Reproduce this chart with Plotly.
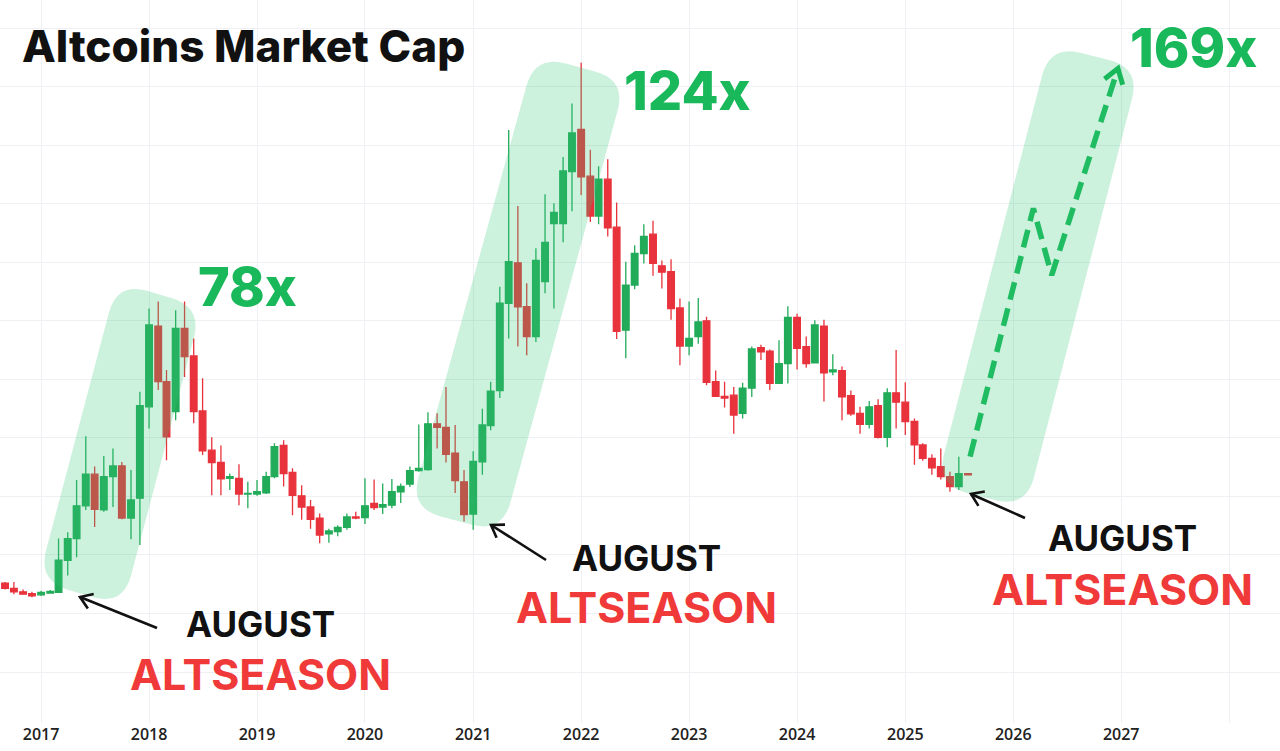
import math
import pandas as pd
import plotly.graph_objects as go

# monthly candles Sep 2016 .. Aug 2025, values in chart index units (grid step = 10)
months = pd.date_range("2016-09-01", periods=108, freq="MS")

opens = [15.2, 14.3, 13.7, 13.4, 13.2, 13.5, 13.6, 19.1, 22.8, 28.4,
         33.8, 27.7, 33.4, 35.2, 26.3, 29.7, 45.3, 59.1, 49.6, 44.5,
         58.7, 54.0, 44.6, 37.9, 35.8, 33.1, 33.1, 30.4, 30.4, 30.6,
         33.4, 38.7, 34.1, 30.1, 28.2, 26.3, 23.6, 24.0, 24.7, 26.5,
         26.4, 28.8, 28.2, 28.5, 30.8, 32.1, 34.4, 34.6, 42.4, 41.8,
         37.4, 32.5, 27.0, 35.9, 42.1, 48.1, 63.0, 69.9, 62.4, 57.3,
         66.7, 76.6, 76.6, 85.5, 92.7, 84.7, 77.9, 84.2, 76.0, 58.4,
         66.1, 71.5, 74.8, 69.4, 68.4, 62.2, 55.7, 57.3, 60.0, 49.6,
         47.1, 47.3, 44.2, 48.5, 55.4, 54.8, 49.3, 52.7, 60.6, 55.6,
         52.8, 59.1, 51.3, 51.5, 47.2, 44.2, 42.3, 45.5, 40.1, 47.7,
         46.1, 42.8, 38.8, 36.5, 35.1, 33.4, 31.7, 33.9]
highs = [15.4, 15.4, 14.1, 13.7, 13.9, 14.0, 22.8, 23.9, 32.8, 40.3,
         35.1, 36.9, 38.2, 35.9, 34.5, 47.9, 62.1, 63.3, 51.6, 61.8,
         63.3, 57.0, 50.2, 40.1, 38.7, 33.9, 35.5, 32.5, 32.8, 34.2,
         39.1, 39.6, 34.8, 31.9, 29.4, 27.1, 24.5, 25.1, 27.1, 27.4,
         33.1, 32.9, 32.2, 33.0, 32.2, 35.1, 42.3, 44.4, 44.2, 48.7,
         42.2, 34.5, 37.7, 45.0, 49.6, 65.8, 92.6, 79.6, 66.4, 72.4,
         81.6, 80.1, 88.0, 97.1, 104.1, 89.2, 86.4, 87.6, 80.2, 70.1,
         72.9, 76.5, 77.1, 70.3, 70.5, 63.8, 63.3, 63.9, 60.7, 51.5,
         49.6, 48.7, 49.4, 55.6, 55.9, 55.1, 56.7, 62.5, 61.2, 57.3,
         60.1, 60.2, 54.3, 52.2, 48.1, 45.3, 46.3, 46.6, 48.5, 55.0,
         49.5, 43.3, 39.1, 37.2, 38.2, 34.2, 36.8, 34.0]
lows = [14.1, 13.3, 13.2, 12.8, 13.0, 13.4, 13.5, 16.5, 19.6, 27.7,
        24.8, 27.4, 28.2, 26.1, 22.7, 21.7, 41.6, 48.2, 36.2, 43.0,
        50.4, 42.5, 37.1, 30.2, 30.2, 31.1, 28.5, 28.0, 30.1, 30.4,
        33.1, 31.7, 26.8, 26.0, 24.5, 22.0, 22.1, 23.2, 24.3, 26.1,
        25.3, 27.7, 27.0, 28.0, 28.9, 31.6, 34.2, 34.4, 38.2, 35.8,
        30.6, 25.7, 24.3, 33.7, 41.3, 46.8, 57.0, 55.6, 54.1, 56.4,
        64.7, 62.1, 73.4, 78.7, 81.5, 76.9, 76.5, 74.4, 56.9, 53.6,
        65.4, 69.8, 67.7, 65.5, 60.2, 52.4, 54.1, 56.1, 49.0, 47.0,
        45.2, 40.7, 43.3, 47.0, 53.3, 48.2, 49.2, 49.3, 51.7, 52.0,
        52.7, 46.2, 50.7, 43.0, 43.8, 40.7, 41.6, 39.9, 38.4, 41.6,
        40.5, 35.4, 36.1, 33.7, 32.9, 30.8, 31.1, 33.6]
closes = [14.3, 13.7, 13.3, 13.0, 13.6, 13.8, 19.1, 22.8, 28.4, 33.8,
          27.8, 33.4, 35.2, 26.3, 29.4, 45.5, 59.3, 49.6, 40.2, 58.7,
          53.9, 44.5, 37.8, 35.8, 33.0, 33.4, 30.4, 30.5, 30.8, 33.4,
          38.5, 33.9, 30.2, 28.2, 26.1, 23.4, 24.1, 24.7, 26.5, 26.3,
          28.4, 28.1, 28.6, 30.8, 31.7, 34.4, 34.8, 42.4, 41.8, 37.2,
          32.7, 26.9, 36.0, 42.2, 48.0, 63.0, 70.1, 62.4, 57.3, 70.3,
          73.4, 78.5, 85.6, 92.1, 84.6, 77.9, 84.2, 75.9, 58.2, 66.1,
          71.5, 74.4, 69.8, 68.3, 62.1, 55.7, 57.0, 59.8, 49.5, 47.1,
          46.8, 43.9, 48.5, 55.2, 54.7, 49.3, 52.7, 60.6, 55.3, 52.7,
          59.3, 51.1, 51.6, 47.0, 44.1, 42.3, 45.3, 40.1, 47.7, 46.1,
          42.8, 38.8, 36.5, 34.9, 33.4, 31.7, 33.9, 33.7]

# projected path of the next altseason (dashed arrow)
proj_dates = ["2025-08-08", "2026-03-10", "2026-05-11", "2026-12-21"]
proj_values = [36.8, 79.2, 67.8, 103.1]

year_ticks = [f"{y}-01-01" for y in range(2017, 2029)]
year_labels = [str(y) for y in range(2017, 2028)] + [""]

GREEN = "#22ab59"
RED = "#e8323c"
TXT_GREEN = "#19b85a"
TXT_RED = "#f03a3a"
BAND = "rgba(50,200,120,0.25)"

W, H = 1280, 751
MB = 28
PH = H - MB
X_RANGE = ["2016-08-15", "2028-06-21"]
Y_RANGE = [-8.7, 114.8]

_x0 = pd.Timestamp(X_RANGE[0]).value
_x1 = pd.Timestamp(X_RANGE[1]).value


def data_px(d, v):
    t = pd.Timestamp(d).value
    return ((t - _x0) / (_x1 - _x0) * W,
            (Y_RANGE[1] - v) / (Y_RANGE[1] - Y_RANGE[0]) * PH)


def pp(p):
    return f"{p[0] / W:.5f},{1 - p[1] / PH:.5f}"


def toward(a, b, r):
    dx, dy = b[0] - a[0], b[1] - a[1]
    L = math.hypot(dx, dy)
    return (a[0] + dx / L * r, a[1] + dy / L * r)


def band_path(corners, r):
    d = ""
    n = len(corners)
    for i in range(n):
        p = corners[i]
        a = toward(p, corners[i - 1], r)
        b = toward(p, corners[(i + 1) % n], r)
        d += ("M" if i == 0 else "L") + pp(a) + " Q" + pp(p) + " " + pp(b) + " "
    return d + "Z"


def chevron(tail, head, size, ang=34):
    ux, uy = head[0] - tail[0], head[1] - tail[1]
    L = math.hypot(ux, uy)
    ux, uy = -ux / L, -uy / L
    arms = []
    for s in (1, -1):
        a = math.radians(ang * s)
        arms.append((head[0] + size * (ux * math.cos(a) - uy * math.sin(a)),
                     head[1] + size * (ux * math.sin(a) + uy * math.cos(a))))
    return "M" + pp(arms[0]) + " L" + pp(head) + " L" + pp(arms[1])


fig = go.Figure()

fig.add_trace(go.Candlestick(
    x=months, open=opens, high=highs, low=lows, close=closes,
    increasing=dict(line=dict(color=GREEN, width=1.3), fillcolor=GREEN),
    decreasing=dict(line=dict(color=RED, width=1.3), fillcolor=RED),
    whiskerwidth=0, showlegend=False, hoverinfo="skip"
))

fig.add_trace(go.Scatter(
    x=proj_dates, y=proj_values, mode="lines",
    line=dict(color=TXT_GREEN, width=5.5, dash="18px,9px"),
    showlegend=False, hoverinfo="skip"
))

shapes = []
# highlighted rally bands (pixel corners TL, TR, BR, BL)
bands = [
    [(117, 282), (202, 307), (123, 606), (38, 581)],
    [(535, 55), (626, 80), (502, 533), (410, 508)],
    [(1050, 45), (1140, 68), (1026, 508), (936, 485)],
]
for c in bands:
    shapes.append(dict(type="path", xref="paper", yref="paper", layer="above",
                       path=band_path(c, 32), fillcolor=BAND, line=dict(width=0)))

# arrowhead of the projected path
tip = data_px(proj_dates[-1], proj_values[-1])
prev = data_px(proj_dates[-2], proj_values[-2])
shapes.append(dict(type="path", xref="paper", yref="paper", layer="above",
                   path=chevron(prev, tip, 17),
                   line=dict(color=TXT_GREEN, width=5)))

# black pointer arrows
for tail, head in [((157, 628), (80, 597)), ((546, 560), (491, 525)),
                   ((1025, 518), (971, 494))]:
    shapes.append(dict(type="path", xref="paper", yref="paper", layer="above",
                       path="M" + pp(tail) + " L" + pp(head),
                       line=dict(color="#111111", width=2.6)))
    shapes.append(dict(type="path", xref="paper", yref="paper", layer="above",
                       path=chevron(tail, head, 14),
                       line=dict(color="#111111", width=2.6)))

annotations = []


def label(text, cx, cy, size, color, anchor="center", weight=700):
    annotations.append(dict(
        text=text, x=cx / W, y=1 - cy / PH, xref="paper", yref="paper",
        xanchor=anchor, yanchor="middle", showarrow=False,
        font=dict(family="Inter", size=size, color=color, weight=weight)))


label("Altcoins Market Cap", 20, 46, 44, "#111111", "left", 800)
label("78x", 247, 287, 54, TXT_GREEN, weight=800)
label("124x", 687, 90, 54, TXT_GREEN, weight=800)
label("169x", 1193, 48, 54, TXT_GREEN, weight=800)
for cx, ya, yb in [(260, 624, 674), (646, 558, 607), (1122, 538, 589)]:
    label("AUGUST", cx, ya, 35, "#111111")
    label("ALTSEASON", cx, yb, 43, TXT_RED)

fig.update_layout(
    width=W, height=H,
    margin=dict(l=0, r=0, t=0, b=MB, pad=0),
    paper_bgcolor="white", plot_bgcolor="white",
    boxgap=0.2, boxgroupgap=0,
    shapes=shapes, annotations=annotations,
    xaxis=dict(type="date", range=X_RANGE, tickvals=year_ticks,
               ticktext=year_labels, showgrid=True, gridcolor="#eef0f3",
               zeroline=False, showline=False, ticks="",
               tickfont=dict(family="Open Sans", size=16, color="#222222",
                             weight=600),
               rangeslider=dict(visible=False), fixedrange=True),
    yaxis=dict(range=Y_RANGE, tick0=0, dtick=10, showticklabels=False,
               showgrid=True, gridcolor="#eef0f3", zeroline=False,
               showline=False, fixedrange=True),
)

fig.write_html("out.html", config={"displayModeBar": False},
               post_script="document.body.style.margin='0';")
